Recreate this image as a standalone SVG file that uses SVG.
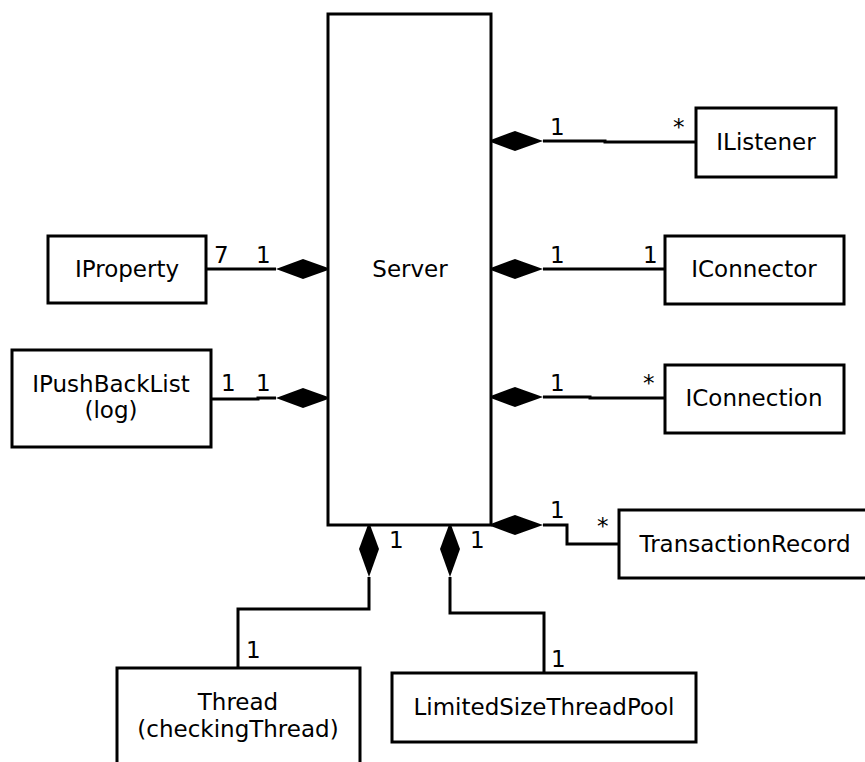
<svg xmlns="http://www.w3.org/2000/svg" width="865" height="762" viewBox="0 0 865 762">
  <style>
    .box { fill: #fff; stroke: #000; stroke-width: 3; }
    .lbl { font-family: "DejaVu Sans", "Liberation Sans", sans-serif; font-size: 23px; fill: #000; text-anchor: middle; }
    .mult { font-family: "DejaVu Sans", "Liberation Sans", sans-serif; font-size: 23px; fill: #000; }
    .edge { fill: none; stroke: #000; stroke-width: 3; }
    .dia { fill: #000; stroke: none; }
  </style>
  <rect width="865" height="762" fill="#fff"/>

  <g id="connectors">
    <!-- Server to IListener -->
    <polyline class="edge" points="543,141 605,141 605,142 696,142"/>
    <polygon class="dia" points="488,141 515,131 543,141 515,151"/>
    <!-- Server to IConnector -->
    <line class="edge" x1="543" y1="269" x2="665" y2="269"/>
    <polygon class="dia" points="488,269 515,259 543,269 515,279"/>
    <!-- Server to IConnection -->
    <polyline class="edge" points="543,397 590,397 590,398 665,398"/>
    <polygon class="dia" points="488,397 515,387 543,397 515,407"/>
    <!-- Server to TransactionRecord -->
    <polyline class="edge" points="543,525 567,525 567,544 619,544"/>
    <polygon class="dia" points="488,525 515,515 543,525 515,535"/>
    <!-- IProperty to Server -->
    <line class="edge" x1="206" y1="269" x2="276" y2="269"/>
    <polygon class="dia" points="331,269 303,259 276,269 303,279"/>
    <!-- IPushBackList to Server -->
    <polyline class="edge" points="211,399 258,399 258,398 276,398"/>
    <polygon class="dia" points="331,398 303,388 276,398 303,408"/>
    <!-- Server to Thread -->
    <polyline class="edge" points="369,577 369,609 238,609 238,668"/>
    <polygon class="dia" points="369,522 379,549 369,577 359,549"/>
    <!-- Server to LimitedSizeThreadPool -->
    <polyline class="edge" points="450,577 450,613 544,613 544,673"/>
    <polygon class="dia" points="450,522 460,549 450,577 440,549"/>
  </g>

  <g id="server">
    <rect class="box" x="328" y="14" width="163" height="511"/>
    <text class="lbl" x="410" y="277">Server</text>
  </g>

  <g id="ilistener">
    <rect class="box" x="696" y="108" width="140" height="69"/>
    <text class="lbl" x="766" y="150">IListener</text>
  </g>

  <g id="iconnector">
    <rect class="box" x="665" y="236" width="179" height="68"/>
    <text class="lbl" x="754" y="277">IConnector</text>
  </g>

  <g id="iconnection">
    <rect class="box" x="665" y="365" width="179" height="68"/>
    <text class="lbl" x="754" y="406">IConnection</text>
  </g>

  <g id="transactionrecord">
    <rect class="box" x="619" y="510" width="250" height="68"/>
    <text class="lbl" x="745" y="552">TransactionRecord</text>
  </g>

  <g id="iproperty">
    <rect class="box" x="48" y="236" width="158" height="67"/>
    <text class="lbl" x="127" y="277">IProperty</text>
  </g>

  <g id="ipushbacklist">
    <rect class="box" x="12" y="350" width="199" height="97"/>
    <text class="lbl" x="111" y="392">IPushBackList</text>
    <text class="lbl" x="111" y="418">(log)</text>
  </g>

  <g id="thread">
    <rect class="box" x="117" y="668" width="243" height="100"/>
    <text class="lbl" x="238" y="710">Thread</text>
    <text class="lbl" x="238" y="737">(checkingThread)</text>
  </g>

  <g id="limitedsizethreadpool">
    <rect class="box" x="392" y="673" width="304" height="69"/>
    <text class="lbl" x="544" y="715">LimitedSizeThreadPool</text>
  </g>

  <g id="multiplicities">
    <text class="mult" x="550" y="135">1</text>
    <text class="mult" x="673" y="135">*</text>
    <text class="mult" x="550" y="263">1</text>
    <text class="mult" x="643" y="263">1</text>
    <text class="mult" x="550" y="391">1</text>
    <text class="mult" x="643" y="391">*</text>
    <text class="mult" x="550" y="518">1</text>
    <text class="mult" x="597" y="534">*</text>
    <text class="mult" x="214" y="263">7</text>
    <text class="mult" x="256" y="263">1</text>
    <text class="mult" x="221" y="391">1</text>
    <text class="mult" x="256" y="391">1</text>
    <text class="mult" x="389" y="548">1</text>
    <text class="mult" x="470" y="548">1</text>
    <text class="mult" x="246" y="658">1</text>
    <text class="mult" x="551" y="667">1</text>
  </g>
</svg>
